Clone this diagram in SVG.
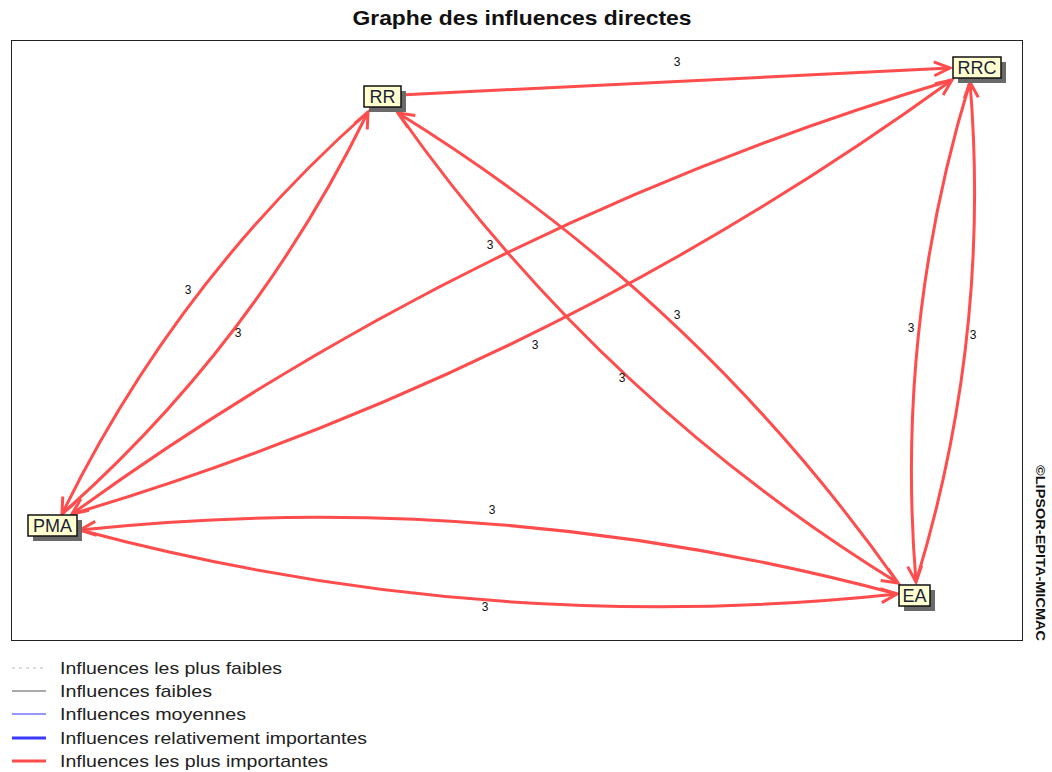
<svg xmlns="http://www.w3.org/2000/svg" width="1052" height="772" viewBox="0 0 1052 772">
<style>
.title{font-family:"Liberation Sans",Arial,sans-serif;font-size:21px;font-weight:bold;fill:#111}
.node rect.box{fill:#ffffcf;stroke:#111;stroke-width:1.5}
.node rect.sh{fill:#6a6a6a}
.node text{font-family:"Liberation Sans",Arial,sans-serif;font-size:18px;fill:#1a1f3a;text-anchor:middle}
.edge{fill:none;stroke:#ff4d4d;stroke-width:3;marker-end:url(#ah)}
.lbl{font-family:"Liberation Sans",Arial,sans-serif;font-size:12px;fill:#111;text-anchor:middle}
.leg{font-family:"Liberation Sans",Arial,sans-serif;font-size:17px;fill:#222}
.copy{font-family:"Liberation Sans",Arial,sans-serif;font-size:13px;font-weight:bold;fill:#111;text-anchor:middle}
</style>
<defs>
<marker id="ah" markerUnits="userSpaceOnUse" markerWidth="20" markerHeight="20" viewBox="-18 -10 20 20" refX="0" refY="0" orient="auto" overflow="visible">
<path d="M-16,-7 L0,0 L-16,7" fill="none" stroke="#ff4d4d" stroke-width="3"/>
</marker>
</defs>
<rect width="1052" height="772" fill="#ffffff"/>
<text class="title" x="522" y="25" text-anchor="middle" textLength="339" lengthAdjust="spacingAndGlyphs">Graphe des influences directes</text>
<rect x="11.5" y="40.5" width="1011" height="600" fill="none" stroke="#222" stroke-width="1"/>
<text class="copy" transform="translate(1036,553) rotate(90)" textLength="176" lengthAdjust="spacingAndGlyphs">©LIPSOR-EPITA-MICMAC</text>

<g id="connectors">
<path class="edge" d="M400,95 L950,68"/>
<path class="edge" d="M62,514 Q255,343 368,112"/>
<path class="edge" d="M368,112 Q175,283 62,514"/>
<path class="edge" d="M72,514 Q549,372 952,80"/>
<path class="edge" d="M952,80 Q475,222 72,514"/>
<path class="edge" d="M398,113 Q600,399 898,583"/>
<path class="edge" d="M898,583 Q696,297 398,113"/>
<path class="edge" d="M970,82 Q895,327 916,582"/>
<path class="edge" d="M916,582 Q991,337 970,82"/>
<path class="edge" d="M80,530 Q483,638 897,594"/>
<path class="edge" d="M897,594 Q494,486 80,530"/>
</g>
<g id="edge-labels">
<text class="lbl" x="677" y="66">3</text>
<text class="lbl" x="188" y="294">3</text>
<text class="lbl" x="238" y="337">3</text>
<text class="lbl" x="490" y="249">3</text>
<text class="lbl" x="535" y="349">3</text>
<text class="lbl" x="677" y="319">3</text>
<text class="lbl" x="622" y="382">3</text>
<text class="lbl" x="911" y="332">3</text>
<text class="lbl" x="973" y="339">3</text>
<text class="lbl" x="492" y="514">3</text>
<text class="lbl" x="485" y="611">3</text>
</g>

<g id="node-RR" class="node">
<rect class="sh" x="369" y="91" width="37" height="21"/>
<rect class="box" x="364" y="86" width="37" height="21"/>
<text x="382.5" y="103">RR</text>
</g>
<g id="node-RRC" class="node">
<rect class="sh" x="958" y="62" width="48" height="21"/>
<rect class="box" x="953" y="57" width="48" height="21"/>
<text x="977" y="74">RRC</text>
</g>
<g id="node-PMA" class="node">
<rect class="sh" x="33" y="520" width="49" height="21"/>
<rect class="box" x="28" y="515" width="49" height="21"/>
<text x="52.5" y="532">PMA</text>
</g>
<g id="node-EA" class="node">
<rect class="sh" x="904" y="590" width="31" height="21"/>
<rect class="box" x="899" y="585" width="31" height="21"/>
<text x="914.5" y="602">EA</text>
</g>

<g id="legend">
<line x1="12" y1="668" x2="46" y2="668" stroke="#bbbbbb" stroke-width="1" stroke-dasharray="3,4"/>
<line x1="12" y1="691" x2="46" y2="691" stroke="#555555" stroke-width="1.2"/>
<line x1="12" y1="714" x2="46" y2="714" stroke="#3030ff" stroke-width="1.2"/>
<line x1="12" y1="738" x2="46" y2="738" stroke="#3a3aff" stroke-width="3"/>
<line x1="12" y1="761" x2="46" y2="761" stroke="#ff4d4d" stroke-width="3"/>
<text class="leg" x="60" y="674" textLength="222" lengthAdjust="spacingAndGlyphs">Influences les plus faibles</text>
<text class="leg" x="60" y="697" textLength="152" lengthAdjust="spacingAndGlyphs">Influences faibles</text>
<text class="leg" x="60" y="720" textLength="186" lengthAdjust="spacingAndGlyphs">Influences moyennes</text>
<text class="leg" x="60" y="744" textLength="307" lengthAdjust="spacingAndGlyphs">Influences relativement importantes</text>
<text class="leg" x="60" y="767" textLength="268" lengthAdjust="spacingAndGlyphs">Influences les plus importantes</text>
</g>
</svg>
